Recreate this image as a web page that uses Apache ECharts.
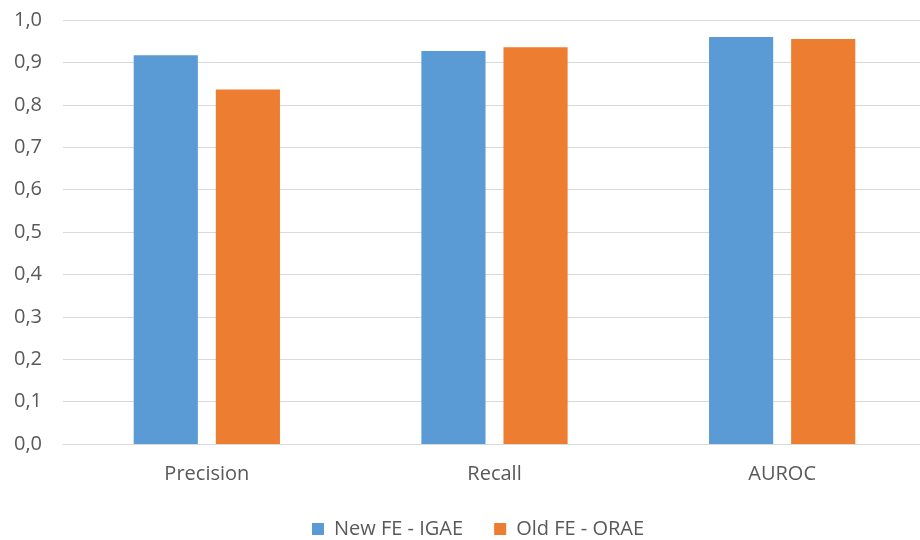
<!DOCTYPE html>
<html>
<head>
<meta charset="utf-8">
<script src="https://cdn.jsdelivr.net/npm/echarts@6/dist/echarts.min.js"></script>
<style>
  html, body { margin: 0; padding: 0; background: #fff; overflow: hidden; }
  /* plot area runs slightly past the right edge of the window */
  #chart { width: 926px; height: 540px; }
</style>
</head>
<body>
<div id="chart"></div>
<script>
const categories = ['Precision', 'Recall', 'AUROC'];
const seriesNames = ['New FE - IGAE', 'Old FE - ORAE'];
const newFeValues = [0.917, 0.927, 0.960];
const oldFeValues = [0.836, 0.936, 0.955];
const seriesColors = ['#5B9BD5', '#ED7D31'];

const chart = echarts.init(document.getElementById('chart'));
const textColor = '#595959';
const fontFamily = '"Open Sans", "Noto Sans", sans-serif';

chart.setOption({
  animation: false,
  textStyle: { fontFamily: fontFamily },
  grid: { left: 63, right: 0, top: 20, bottom: 96 },
  legend: {
    bottom: -4,
    left: 307,
    itemWidth: 12,
    itemHeight: 12,
    itemGap: 31,
    icon: 'rect',
    textStyle: { color: textColor, fontSize: 20, fontFamily: fontFamily, padding: [0, 0, 0, 5] }
  },
  xAxis: {
    type: 'category',
    data: categories,
    axisLine: { show: true, lineStyle: { color: '#D9D9D9' } },
    axisTick: { show: false },
    axisLabel: { color: textColor, fontSize: 20, margin: 20 }
  },
  yAxis: {
    type: 'value',
    min: 0,
    max: 1,
    interval: 0.1,
    axisLine: { show: false },
    axisTick: { show: false },
    splitLine: { lineStyle: { color: '#D9D9D9', width: 1 } },
    axisLabel: {
      color: textColor,
      fontSize: 20,
      margin: 21,
      formatter: v => v.toFixed(1).replace('.', ',')
    }
  },
  series: [
    {
      name: seriesNames[0],
      type: 'bar',
      data: newFeValues,
      barWidth: '22.3%',
      barGap: '28%',
      itemStyle: { color: seriesColors[0] }
    },
    {
      name: seriesNames[1],
      type: 'bar',
      data: oldFeValues,
      barWidth: '22.3%',
      barGap: '28%',
      itemStyle: { color: seriesColors[1] }
    }
  ]
});
</script>
</body>
</html>
